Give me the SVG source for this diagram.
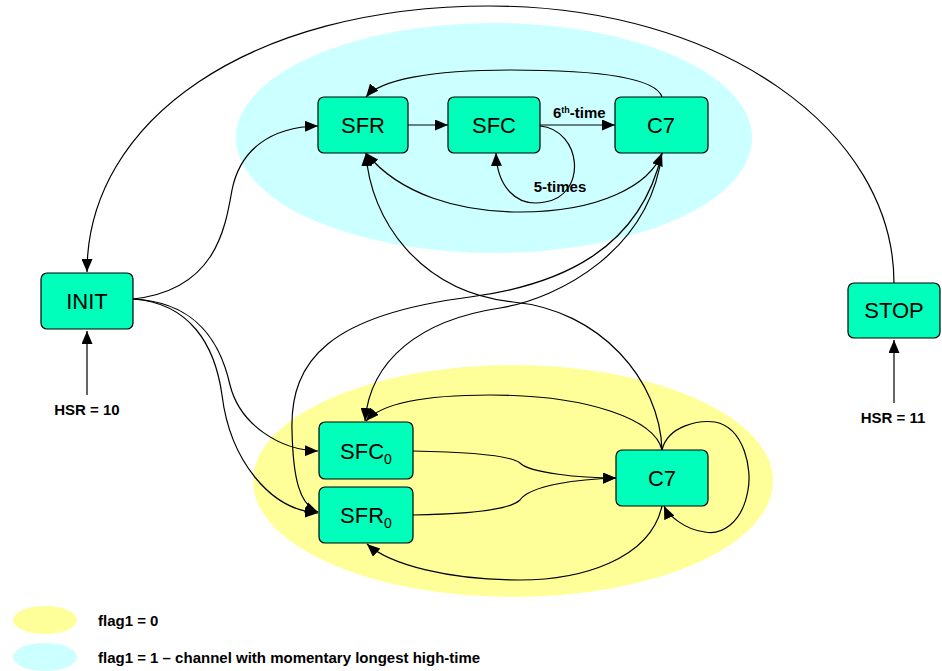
<svg xmlns="http://www.w3.org/2000/svg" width="942" height="671" viewBox="0 0 942 671">
<defs>
<marker id="arr" markerWidth="13" markerHeight="11" refX="13" refY="5.5" orient="auto-start-reverse" markerUnits="userSpaceOnUse"><path d="M0,0 L13,5.5 L0,11 z" fill="#000"/></marker>
</defs>
<style>
.node rect{fill:#00FFBB;stroke:#000;stroke-width:1.2}
.node text{font-family:"Liberation Sans",Arial,sans-serif;font-size:22px;fill:#000;text-anchor:middle}
.lbl{font-family:"Liberation Sans",Arial,sans-serif;font-size:15px;font-weight:bold;fill:#000}
.c path,.c line{fill:none;stroke:#000;stroke-width:1.2}
.c .in{stroke:#666;stroke-width:2}
</style>
<rect width="942" height="671" fill="#fff"/>
<g id="regions">
<ellipse cx="494" cy="138" rx="258" ry="115" fill="#CCFFFF"/>
<ellipse cx="513" cy="481" rx="260" ry="116" fill="#FFFF99"/>
</g>
<g id="legend">
<ellipse cx="45" cy="620" rx="32" ry="14" fill="#FFFF99"/>
<ellipse cx="45" cy="657" rx="32" ry="14" fill="#CCFFFF"/>
<text class="lbl" x="98" y="626">flag1 = 0</text>
<text class="lbl" x="98" y="663">flag1 = 1 – channel with momentary longest high-time</text>
</g>
<g id="connectors" class="c">
<path d="M894,283 C894,130 720,6 490,6 C250,6 87,120 87,272" marker-end="url(#arr)"/>
<path d="M133,299 C215,290 225,230 232,190 C240,150 270,127 318,126" marker-end="url(#arr)"/>
<path d="M133,299 C195,302 220,340 230,385 C240,425 280,450 318,451" marker-end="url(#arr)"/>
<path d="M133,299 C190,303 215,345 222,395 C230,460 270,510 318,513" marker-end="url(#arr)"/>
<line x1="408" y1="125" x2="448" y2="125" marker-end="url(#arr)"/>
<line x1="540" y1="125" x2="615" y2="125" marker-end="url(#arr)"/>
<path d="M540,126 C582,130 588,195 545,202 C515,208 497,185 496,153" marker-end="url(#arr)"/>
<path d="M662,97 C655,75 580,70 510,70 C430,70 380,80 366,97" marker-end="url(#arr)"/>
<path d="M366,153 C400,195 460,212 520,212 C600,212 650,185 662,153" marker-start="url(#arr)" marker-end="url(#arr)"/>
<path d="M662,450 C660,380 600,310 513,302 C420,292 370,220 366,153" marker-end="url(#arr)"/>
<path d="M662,153 C650,250 560,298 500,308 C420,320 370,360 365,421" marker-end="url(#arr)"/>
<path d="M662,153 C640,250 560,285 470,297 C330,315 290,360 292,430 C293,480 300,505 318,512" marker-end="url(#arr)"/>
<path d="M413,451 C470,452 510,455 520,463 C530,473 580,478 616,478" marker-end="url(#arr)"/>
<path d="M413,515 C470,514 510,510 520,500 C530,485 580,479 616,478" marker-end="url(#arr)"/>
<path d="M662,450 C655,420 590,395 490,395 C420,395 380,405 366,421" marker-end="url(#arr)"/>
<path d="M662,450 C668,425 700,420 715,422 C745,428 752,470 748,490 C742,525 720,535 705,532 C685,530 668,515 664,506" marker-end="url(#arr)"/>
<path d="M662,506 C650,560 580,580 520,580 C450,580 390,565 367,544" marker-end="url(#arr)"/>
<line class="in" x1="87" y1="395" x2="87" y2="331" marker-end="url(#arr)"/>
<line class="in" x1="894" y1="403" x2="894" y2="340" marker-end="url(#arr)"/>
</g>
<g id="labels">
<text class="lbl" x="553" y="118" font-size="14">6<tspan font-size="9" dy="-5">th</tspan><tspan dy="5">-time</tspan></text>
<text class="lbl" x="560" y="192" text-anchor="middle">5-times</text>
<text class="lbl" x="87" y="415" text-anchor="middle">HSR = 10</text>
<text class="lbl" x="893" y="423" text-anchor="middle">HSR = 11</text>
</g>
<g id="INIT" class="node"><rect x="41" y="273" width="92" height="56" rx="6"/><text x="87" y="309">INIT</text></g>
<g id="STOP" class="node"><rect x="848" y="283" width="92" height="55" rx="6"/><text x="894" y="318">STOP</text></g>
<g id="SFR" class="node"><rect x="318" y="97" width="90" height="56" rx="6"/><text x="363" y="133">SFR</text></g>
<g id="SFC" class="node"><rect x="448" y="97" width="92" height="56" rx="6"/><text x="494" y="133">SFC</text></g>
<g id="C7top" class="node"><rect x="615" y="97" width="93" height="56" rx="6"/><text x="661" y="133">C7</text></g>
<g id="SFC0" class="node"><rect x="319" y="422" width="94" height="57" rx="6"/><text x="366" y="459">SFC<tspan font-size="14" dy="5">0</tspan></text></g>
<g id="SFR0" class="node"><rect x="319" y="487" width="94" height="56" rx="6"/><text x="366" y="523">SFR<tspan font-size="14" dy="5">0</tspan></text></g>
<g id="C7bottom" class="node"><rect x="616" y="450" width="92" height="56" rx="6"/><text x="662" y="486">C7</text></g>
</svg>
